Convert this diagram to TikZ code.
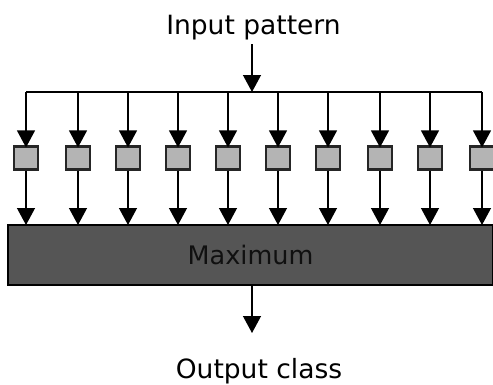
\documentclass[tikz,border=0pt]{standalone}
\usepackage{fontspec}
\setmainfont{DejaVu Sans}
\usetikzlibrary{arrows.meta}
\definecolor{barfill}{HTML}{555555}
\definecolor{cellfill}{HTML}{B4B4B4}
\definecolor{inktext}{HTML}{101010}
\tikzset{
  wire/.style={line width=1.3pt, draw=black},
  feed/.style={wire, -{Triangle[length=17pt,width=18pt]}},
  cell/.style={draw=black!85, line width=2.2pt, fill=cellfill,
    minimum width=24pt, minimum height=23pt, inner sep=0pt},
  maxbar/.style={draw=black, line width=1.2pt, fill=barfill,
    minimum width=485pt, minimum height=60pt, inner sep=0pt,
    font=\fontsize{25.5}{30}\selectfont, text=inktext},
  caption/.style={font=\fontsize{26.5}{32}\selectfont, anchor=base, inner sep=0pt}
}
\begin{document}
\begin{tikzpicture}[x=1pt, y=-1pt]
  \useasboundingbox (0,0) rectangle (493,384);
  % captions
  \node[caption] (in) at (253.5,34) {Input pattern};
  \node[caption] (out) at (259,378) {Output class};
  % the maximum stage
  \node[maxbar] (max) at (250.5,255) {Maximum};
  % input feed onto the distribution bus
  \coordinate (src) at (252,44);
  \coordinate (tap) at (252,92);
  \draw[feed] (src) -- (tap);
  % one cell per column: bus drop, cell, link into the maximum stage
  \foreach \i/\x in {1/26,2/78,3/128,4/178,5/228,6/278,7/328,8/380,9/430,10/482}{
    \coordinate (b\i) at (\x,92);
    \node[cell] (c\i) at (\x,158) {};
    \coordinate (m\i) at (\x,225);
    \draw[feed] (b\i) -- ([yshift=-2pt]c\i.north);
    \draw[feed] (c\i.south) -- (m\i);
  }
  \draw[wire] (b1) -- (b10);
  % output
  \coordinate (o) at (252,333);
  \draw[feed] (max.south -| o) -- (o);
\end{tikzpicture}
\end{document}
